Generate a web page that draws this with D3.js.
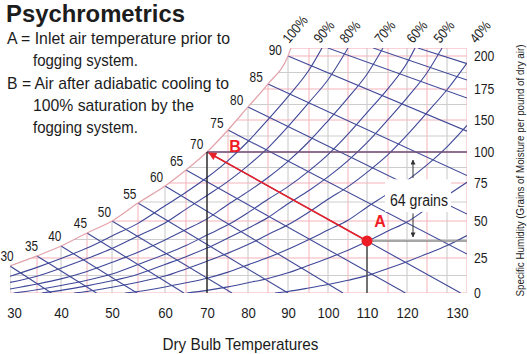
<!DOCTYPE html>
<html>
<head>
<meta charset="utf-8">
<script src="https://cdn.jsdelivr.net/npm/d3@7"></script>
<style>
  body { margin: 0; background: #fff; }
  text { font-family: "Liberation Sans Narrow", "Arial Narrow", "Liberation Sans", Arial, sans-serif; fill: #1c1c1c; }
</style>
</head>
<body>
<div id="chart"></div>
<script>
// dry bulb (deg F) grid, ticks; specific humidity (grains) ticks and grid
const gridTemps = [30, 35, 40, 45, 50, 55, 60, 65, 70, 75, 80, 85, 90, 95, 100, 105, 110, 115, 120, 125, 130, 135];
const dryBulbTicks = [30, 40, 50, 60, 70, 80, 90, 100, 110, 120, 130];
const humidityTicks = [0, 25, 50, 75, 100, 150, 175, 200];
const humidityGrid = [0, 12.5, 25, 37.5, 50, 62.5, 75, 87.5, 100, 125, 150, 162.5, 175, 187.5, 200, 206];

// 100% saturation curve [dry bulb, grains]
const saturation = [[30, 19.3], [35, 26.4], [40, 33.1], [45, 41.9], [50, 50], [55, 61.8], [60, 73], [65, 85.5],
  [70, 100], [75, 134.4], [80, 160.5], [85, 178.8], [90, 200], [90.7, 206]];

// relative humidity curves
const rh90 = [[30, 11.9], [35, 18.3], [40, 24.6], [45, 31.7], [50, 39.9], [55, 48.4], [60, 60], [65, 68.9], [70, 79.4],
  [75, 93.1], [80, 116.4], [85, 150.3], [90, 168.9], [95, 189.4], [98.4, 206]];
const rh80 = [[30, 7.6], [35, 12], [40, 17.7], [45, 24.6], [50, 31.4], [55, 39.9], [60, 48.7], [65, 57.8], [70, 66.8],
  [75, 76.3], [80, 89], [85, 106.6], [90, 139.8], [95, 164.2], [100, 182], [105, 206]];
const rh70 = [[30, 2.9], [35, 6.4], [40, 10.1], [45, 15.4], [50, 21.9], [55, 28.9], [60, 37.2], [65, 44.2], [70, 51.4],
  [75, 60.9], [80, 69.3], [85, 79.4], [90, 92.4], [95, 116.4], [100, 148.8], [105, 167.9], [110, 186.2], [113.8, 206]];
const rh60 = [[30.7, 0], [35, 2.3], [40, 5.3], [45, 9.1], [50, 13.6], [55, 20.4], [60, 27.5], [65, 33.4], [70, 40.5],
  [75, 47.4], [80, 55.5], [85, 64.3], [90, 72.6], [95, 84.8], [100, 97.9], [105, 127.8], [110, 155.9], [115, 175.3],
  [120, 194.7], [122, 206]];
const rh50 = [[36, 0], [40, 1.9], [45, 5.1], [50, 8.7], [55, 13.4], [60, 20.4], [65, 25.9], [70, 31.7], [75, 38.5],
  [80, 45.1], [85, 52.3], [90, 61.4], [95, 70.1], [100, 79.9], [105, 93.1], [110, 114.7], [115, 150.3], [120, 167.9],
  [125, 187.3], [128.75, 206]];
const rh40 = [[42.5, 0], [45, 1.1], [50, 4.1], [55, 7.7], [60, 12.1], [65, 17.2], [70, 22.7], [75, 28.3], [80, 34.1],
  [85, 40.9], [90, 47.4], [95, 55.9], [100, 64.3], [105, 72.6], [110, 83.6], [115, 97.9], [120, 126.3], [125, 155.9],
  [130, 174.4], [135, 194.7]];
const rh30 = [[52.5, 0], [55, 1.1], [60, 4.3], [65, 7.3], [70, 10.6], [75, 14.9], [80, 20.1], [85, 25.3], [90, 30.9],
  [95, 37.5], [100, 43.9], [105, 50.5], [110, 59.1], [115, 68], [120, 76.9], [125, 89.6], [130, 108.1], [135, 141.6]];
const rh20 = [[65.2, 0], [70, 1.9], [75, 4.4], [80, 7.3], [85, 10.4], [90, 14.4], [95, 19.8], [100, 24.9], [105, 30.3],
  [110, 36.1], [115, 43.2], [120, 49.3], [125, 58.2], [130, 66.8], [135, 75.6]];
const rh10 = [[86.75, 0], [90, 1.1], [95, 3.6], [100, 6.1], [105, 9.1], [110, 12.4], [115, 17.5], [120, 22.4],
  [125, 27.8], [130, 33.4], [135, 40.2]];
const rhLabels = ["100%", "90%", "80%", "70%", "60%", "50%", "40%"];

// wet bulb lines: label, start on saturation (or top edge), end on bottom / right edge
const wetBulbLabels = [30, 35, 40, 45, 50, 55, 60, 65, 70, 75, 80, 85, 90];
const wetBulbStart = [[30, 19.3], [35, 26.4], [40, 33.1], [45, 41.9], [50, 50], [55, 61.8], [60, 73], [65, 85.5],
  [70, 100], [75, 134.4], [80, 160.5], [85, 178.8], [90, 200], [100, 206], [111.5, 206], [122.75, 206]];
const wetBulbEnd = [[38, 0], [46.9, 0], [54.8, 0], [64.5, 0], [76, 0], [90, 0], [103.75, 0], [119.6, 0],
  [133.4, 0], [135, 27.7], [135, 54.6], [135, 81], [135, 132.5], [135, 167.7], [135, 181.8], [135, 194.2]];

const pointA = [110, 36.5];
const pointB = [70, 100];

const notes = [
  "A = Inlet air temperature prior to",
  "fogging system.",
  "B = Air after adiabatic cooling to",
  "100% saturation by the",
  "fogging system."
];

const width = 527;
const height = 354;
const topGrains = 206;

const svg = d3.select("#chart").append("svg")
  .attr("width", width)
  .attr("height", height);

// the printed chart is not evenly spaced, so both scales are piecewise
const x = d3.scaleLinear()
  .domain(gridTemps)
  .range([10, 37, 61, 87, 112, 138, 165, 186, 207, 228, 248, 268, 288, 309, 328, 348, 367, 388, 407, 427, 447, 467]);
const y = d3.scaleLinear()
  .domain(humidityTicks)
  .range([293, 258, 221, 183, 152, 120, 89, 56]);

const x0 = x(30), x1 = x(135), yBot = y(0), yTop = y(topGrains);

// narrow digits: no condensed face is installed, so squeeze the glyphs
function textLen(s, digit) {
  return String(s).split("").reduce((a, c) => a + (c === "%" ? digit * 1.5 : digit), 0);
}

const curve = d3.line()
  .x((d) => x(d[0]))
  .y((d) => y(d[1]))
  .curve(d3.curveMonotoneX);

const defs = svg.append("defs");
defs.append("clipPath").attr("id", "plot")
  .append("rect")
  .attr("x", x0).attr("y", yTop)
  .attr("width", x1 - x0).attr("height", yBot - yTop);
defs.append("clipPath").attr("id", "under")
  .append("path")
  .attr("d", curve(saturation) + "L" + x1 + "," + yTop + "L" + x1 + "," + yBot + "L" + x0 + "," + yBot + "Z");

function marker(id, color, w, h) {
  defs.append("marker")
    .attr("id", id)
    .attr("viewBox", "0 0 10 10")
    .attr("refX", 9).attr("refY", 5)
    .attr("markerUnits", "userSpaceOnUse")
    .attr("markerWidth", w).attr("markerHeight", h)
    .attr("orient", "auto")
    .append("path")
    .attr("d", "M0,0L10,5L0,10Z")
    .attr("fill", color);
}
marker("redHead", "#e8202a", 9, 8);
marker("greyHead", "#333", 5, 5);

// grid under the saturation curve
const grid = svg.append("g").attr("clip-path", "url(#under)");
grid.selectAll(".vgrid")
  .data(gridTemps)
  .enter()
  .append("line")
  .attr("x1", (d) => x(d)).attr("x2", (d) => x(d))
  .attr("y1", yBot).attr("y2", yTop)
  .attr("stroke", (d) => (d % 10 === 0 ? "#c6c6c6" : "#f4b3ba"))
  .attr("stroke-width", 1);
grid.selectAll(".hgrid")
  .data(humidityGrid)
  .enter()
  .append("line")
  .attr("x1", x0).attr("x2", x1)
  .attr("y1", (d) => y(d)).attr("y2", (d) => y(d))
  .attr("stroke", (d) => (humidityTicks.includes(d) || d === topGrains ? "#f4b3ba" : "#cdcdcd"))
  .attr("stroke-width", 1);

// blue curves
const lines = svg.append("g").attr("clip-path", "url(#plot)");
lines.selectAll(".rh")
  .data([rh90, rh80, rh70, rh60, rh50, rh40, rh30, rh20, rh10])
  .enter()
  .append("path")
  .attr("d", curve)
  .attr("fill", "none")
  .attr("stroke", "#3f4898")
  .attr("stroke-width", 1.1);
lines.selectAll(".wb")
  .data(wetBulbStart)
  .enter()
  .append("line")
  .attr("x1", (d) => x(d[0])).attr("y1", (d) => y(d[1]))
  .attr("x2", (d, i) => x(wetBulbEnd[i][0])).attr("y2", (d, i) => y(wetBulbEnd[i][1]))
  .attr("stroke", "#3f4898")
  .attr("stroke-width", 1.1);

lines.append("path")
  .attr("d", curve(saturation))
  .attr("fill", "none")
  .attr("stroke", "#e3a2aa")
  .attr("stroke-width", 1.2);

// wet bulb labels, pushed out along the normal of the saturation curve
function normal(i) {
  const a = saturation[Math.max(i - 1, 0)], b = saturation[i + 1];
  const dx = x(b[0]) - x(a[0]), dy = y(b[1]) - y(a[1]);
  const len = Math.hypot(dx, dy);
  return [dy / len, -dx / len];
}
svg.selectAll(".wbLabel")
  .data(wetBulbLabels)
  .enter()
  .append("text")
  .attr("x", (d, i) => Math.max(7, x(saturation[i][0]) + normal(i)[0] * 15))
  .attr("y", (d, i) => y(saturation[i][1]) + normal(i)[1] * 11)
  .attr("dy", "0.36em")
  .attr("text-anchor", "middle")
  .attr("textLength", (d) => textLen(d, 6.6)).attr("lengthAdjust", "spacingAndGlyphs")
  .style("font-size", "14px")
  .text((d) => d);

// RH labels along the top edge
svg.selectAll(".rhLabel")
  .data([saturation, rh90, rh80, rh70, rh60, rh50, rh40])
  .enter()
  .append("text")
  .attr("transform", (d) => {
    const p = d[d.length - 1], q = d[d.length - 2];
    let cx = x(p[0]);
    if (p[1] < topGrains) {
      cx = x(p[0]) + ((yTop - y(p[1])) * (x(p[0]) - x(q[0]))) / (y(p[1]) - y(q[1]));
    }
    return "translate(" + (cx - 2) + "," + (yTop - 4) + ") rotate(-50)";
  })
  .attr("textLength", (d, i) => textLen(rhLabels[i], 6.8)).attr("lengthAdjust", "spacingAndGlyphs")
  .style("font-size", "14px")
  .text((d, i) => rhLabels[i]);

// B guides and A guides
const bx = x(pointB[0]), by = y(pointB[1]);
const ax = x(pointA[0]), ay = y(pointA[1]);
svg.append("line")
  .attr("x1", bx).attr("x2", x1).attr("y1", by).attr("y2", by)
  .attr("stroke", "#6c4c76").attr("stroke-width", 1.3);
svg.append("line")
  .attr("x1", bx).attr("x2", bx).attr("y1", by).attr("y2", yBot)
  .attr("stroke", "#1a1a1a").attr("stroke-width", 1.3);
svg.append("line")
  .attr("x1", ax).attr("x2", x1).attr("y1", ay).attr("y2", ay)
  .attr("stroke", "#8a8a8a").attr("stroke-width", 1.3);
svg.append("line")
  .attr("x1", ax).attr("x2", ax).attr("y1", ay).attr("y2", yBot)
  .attr("stroke", "#555").attr("stroke-width", 1.6);

svg.append("line")
  .attr("x1", ax).attr("y1", ay)
  .attr("x2", bx + 2).attr("y2", by + 1)
  .attr("stroke", "#e8202a")
  .attr("stroke-width", 1.6)
  .attr("marker-end", "url(#redHead)");
svg.append("circle")
  .attr("cx", ax).attr("cy", ay).attr("r", 5.5)
  .attr("fill", "#ee1c24");

svg.append("text")
  .attr("x", ax + 13).attr("y", ay - 14)
  .attr("text-anchor", "middle")
  .style("font-size", "16px").style("font-weight", "bold").style("fill", "#ee1c24")
  .text("A");
svg.append("text")
  .attr("x", bx + 28).attr("y", by)
  .attr("text-anchor", "middle")
  .style("font-size", "16px").style("font-weight", "bold").style("fill", "#ee1c24")
  .text("B");

// 64 grains callout
const gx = x(121.5);
svg.append("rect")
  .attr("x", gx - 28).attr("y", y(78)).attr("width", 66).attr("height", y(56) - y(78))
  .attr("fill", "#fff");
svg.append("text")
  .attr("x", gx + 6).attr("y", y(63) + 5)
  .attr("text-anchor", "middle")
  .attr("textLength", 58).attr("lengthAdjust", "spacingAndGlyphs")
  .style("font-size", "16px")
  .text("64 grains");
svg.append("line")
  .attr("x1", gx).attr("x2", gx).attr("y1", y(79)).attr("y2", by + 8)
  .attr("stroke", "#333").attr("stroke-width", 1)
  .attr("marker-end", "url(#greyHead)");
svg.append("line")
  .attr("x1", gx).attr("x2", gx).attr("y1", y(55)).attr("y2", ay - 4)
  .attr("stroke", "#333").attr("stroke-width", 1)
  .attr("marker-end", "url(#greyHead)");

// axes
const right = svg.append("g")
  .attr("transform", "translate(" + x1 + ",0)")
  .call(d3.axisRight(y).tickValues(humidityTicks).tickSize(0).tickPadding(7));
right.select(".domain").remove();
right.selectAll("text")
  .attr("font-family", null)
  .attr("textLength", (d) => textLen(d, 6.8)).attr("lengthAdjust", "spacingAndGlyphs")
  .style("font-size", "15px");

const bottom = svg.append("g")
  .attr("transform", "translate(0," + yBot + ")")
  .call(d3.axisBottom(x).tickValues(dryBulbTicks).tickSize(0).tickPadding(14));
bottom.select(".domain").remove();
bottom.selectAll("text")
  .attr("font-family", null)
  .attr("textLength", (d) => textLen(d, 7.3)).attr("lengthAdjust", "spacingAndGlyphs")
  .style("font-size", "15px")
  .attr("dx", (d) => (d === 30 ? 4 : d === 130 ? 10 : 0));

svg.append("text")
  .attr("x", (x0 + x1) / 2 + 2).attr("y", 350)
  .attr("text-anchor", "middle")
  .attr("textLength", 156).attr("lengthAdjust", "spacingAndGlyphs")
  .style("font-size", "17px")
  .text("Dry Bulb Temperatures");

svg.append("text")
  .attr("transform", "translate(524," + (yTop + yBot) / 2 + ") rotate(-90)")
  .attr("text-anchor", "middle")
  .attr("textLength", 252).attr("lengthAdjust", "spacingAndGlyphs")
  .style("font-size", "11px")
  .text("Specific Humidity (Grains of Moisture per pound of dry air)");

// title and notes
svg.append("text")
  .attr("x", 6).attr("y", 22)
  .attr("textLength", 179).attr("lengthAdjust", "spacingAndGlyphs")
  .style("font-size", "24px").style("font-weight", "bold")
  .text("Psychrometrics");

const noteX = [7, 33, 7, 33, 33];
const noteLen = [223, 105, 222, 161, 105];
svg.selectAll(".note")
  .data(notes)
  .enter()
  .append("text")
  .attr("x", (d, i) => noteX[i])
  .attr("y", (d, i) => 44 + i * 22.3)
  .attr("textLength", (d, i) => noteLen[i]).attr("lengthAdjust", "spacingAndGlyphs")
  .style("font-size", "17px")
  .text((d) => d);
</script>
</body>
</html>
